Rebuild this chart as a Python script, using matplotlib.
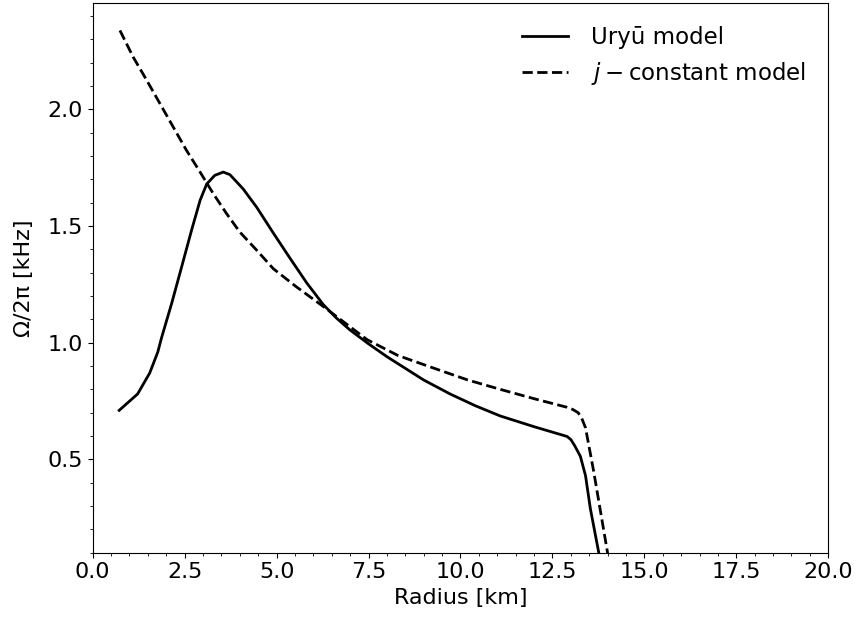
import matplotlib
matplotlib.use("Agg")
import matplotlib.pyplot as plt
from matplotlib.ticker import MultipleLocator

# Uryu differential rotation profile
r_uryu = [0.72, 1.22, 1.55, 1.77, 1.87, 2.15, 2.42, 2.69, 2.92, 3.10, 3.32, 3.55,
          3.73, 4.09, 4.46, 4.91, 5.36, 5.82, 6.27, 6.63, 6.99, 7.5, 8.0, 8.5, 9.0,
          9.72, 10.4, 11.08, 12.0, 12.9, 13.0, 13.1, 13.26, 13.40, 13.53, 13.76, 13.82]
om_uryu = [0.71, 0.78, 0.87, 0.96, 1.02, 1.17, 1.326, 1.483, 1.61, 1.68, 1.717, 1.731,
           1.72, 1.659, 1.58, 1.47, 1.363, 1.256, 1.163, 1.105, 1.055, 0.995, 0.94, 0.89,
           0.84, 0.78, 0.73, 0.686, 0.64, 0.598, 0.585, 0.56, 0.513, 0.43, 0.29, 0.10, 0.05]

# j-constant law
r_jconst = [0.74, 1.10, 1.47, 1.83, 2.19, 2.55, 2.92, 3.28, 3.64, 4.0, 4.46, 4.91,
            5.54, 6.27, 6.63, 7.46, 8.3, 9.27, 10.2, 11.08, 12.0, 12.9, 13.05,
            13.2, 13.3, 13.4, 13.62, 13.99, 14.05]
om_jconst = [2.338, 2.224, 2.124, 2.024, 1.924, 1.824, 1.731, 1.638, 1.553, 1.474, 1.396,
             1.317, 1.239, 1.155, 1.112, 1.013, 0.945, 0.891, 0.84, 0.80, 0.76, 0.723, 0.714,
             0.70, 0.675, 0.635, 0.45, 0.108, 0.05]

plt.rcParams['font.size'] = 16

fig = plt.figure(figsize=(8.56, 6.22), dpi=100)
ax = fig.add_axes([0.1083, 0.1114, 0.8593, 0.8836])

ax.plot(r_uryu, om_uryu, color='black', lw=2, label='Uryū model')
ax.plot(r_jconst, om_jconst, color='black', lw=2, ls='--', label=r'$j-$constant model')

ax.set_xlim(0, 20)
ax.set_ylim(0.1, 2.455)
ax.xaxis.set_major_locator(MultipleLocator(2.5))
ax.xaxis.set_minor_locator(MultipleLocator(0.5))
ax.yaxis.set_major_locator(MultipleLocator(0.5))
ax.yaxis.set_minor_locator(MultipleLocator(0.1))

ax.set_xlabel('Radius [km]')
ax.set_ylabel('Ω/2π [kHz]', labelpad=10)
ax.legend(loc='upper right', frameon=False, fontsize=16.5,
          borderaxespad=0.6, handlelength=2.0, handletextpad=1.0)

plt.savefig('out.png')
